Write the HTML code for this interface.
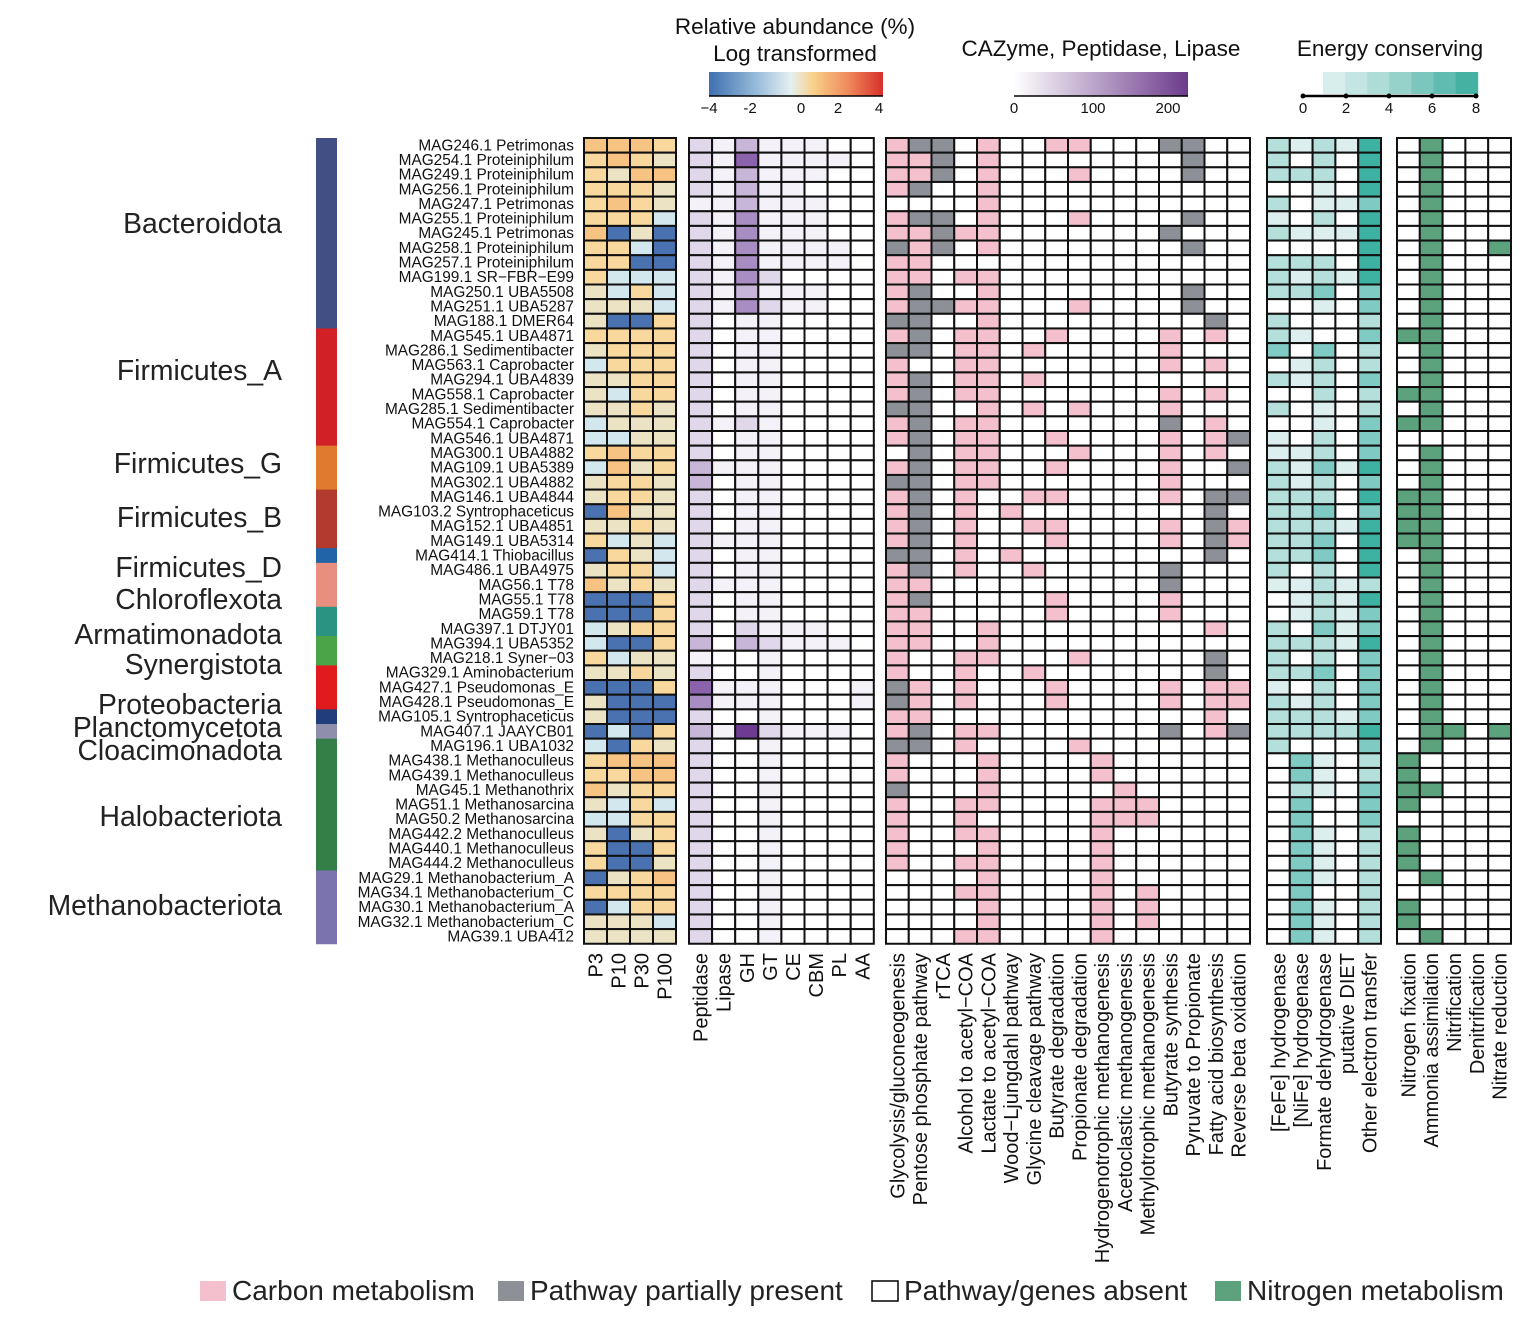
<!DOCTYPE html>
<html><head><meta charset="utf-8"><style>
body{margin:0;background:#fff;}
svg{display:block;font-family:"Liberation Sans",Arial,sans-serif;}
</style></head><body>
<svg id="s" width="1526" height="1320" viewBox="0 0 1526 1320" xmlns="http://www.w3.org/2000/svg">
<defs>
<linearGradient id="ga" x1="0" x2="1"><stop offset="0" stop-color="#3f6fb0"/><stop offset="0.25" stop-color="#8fb5d6"/><stop offset="0.47" stop-color="#e6f0f2"/><stop offset="0.6" stop-color="#f8d08a"/><stop offset="0.8" stop-color="#ef8a5a"/><stop offset="1" stop-color="#d7302a"/></linearGradient>
<linearGradient id="gc" x1="0" x2="1"><stop offset="0" stop-color="#ffffff"/><stop offset="1" stop-color="#6c3b8c"/></linearGradient>
</defs>
<g id="g"></g>
</svg>
<script>
var NS="http://www.w3.org/2000/svg",G=document.getElementById('g');
function el(t,a,txt){var e=document.createElementNS(NS,t);for(var k in a)e.setAttribute(k,a[k]);if(txt!=null)e.textContent=txt;G.appendChild(e);return e;}
var T=138,H=14.65,N=55;
var names=["MAG246.1 Petrimonas","MAG254.1 Proteiniphilum","MAG249.1 Proteiniphilum","MAG256.1 Proteiniphilum","MAG247.1 Petrimonas","MAG255.1 Proteiniphilum","MAG245.1 Petrimonas","MAG258.1 Proteiniphilum","MAG257.1 Proteiniphilum","MAG199.1 SR\u2212FBR\u2212E99","MAG250.1 UBA5508","MAG251.1 UBA5287","MAG188.1 DMER64","MAG545.1 UBA4871","MAG286.1 Sedimentibacter","MAG563.1 Caprobacter","MAG294.1 UBA4839","MAG558.1 Caprobacter","MAG285.1 Sedimentibacter","MAG554.1 Caprobacter","MAG546.1 UBA4871","MAG300.1 UBA4882","MAG109.1 UBA5389","MAG302.1 UBA4882","MAG146.1 UBA4844","MAG103.2 Syntrophaceticus","MAG152.1 UBA4851","MAG149.1 UBA5314","MAG414.1 Thiobacillus","MAG486.1 UBA4975","MAG56.1 T78","MAG55.1 T78","MAG59.1 T78","MAG397.1 DTJY01","MAG394.1 UBA5352","MAG218.1 Syner\u221203","MAG329.1 Aminobacterium","MAG427.1 Pseudomonas_E","MAG428.1 Pseudomonas_E","MAG105.1 Syntrophaceticus","MAG407.1 JAAYCB01","MAG196.1 UBA1032","MAG438.1 Methanoculleus","MAG439.1 Methanoculleus","MAG45.1 Methanothrix","MAG51.1 Methanosarcina","MAG50.2 Methanosarcina","MAG442.2 Methanoculleus","MAG440.1 Methanoculleus","MAG444.2 Methanoculleus","MAG29.1 Methanobacterium_A","MAG34.1 Methanobacterium_C","MAG30.1 Methanobacterium_A","MAG32.1 Methanobacterium_C","MAG39.1 UBA412"];
var ab="OOOy yOye yeOO yyye yOye yyyl Obeb yylb yybb ylll elyl eeel ebby yyyy eyyy lyyy eeyy elyy eeye leee llee yOyy lOey eyye eyye bOee eeye ylel byel eyyl Oeye bbby bbby leyy lbby ylee eeye bbby ebbb ebbb blby lbye yOOO yyOO Oeyy elyl llyy ebey ybby ybbe beyO yyyy blyy eeel eeee".split(" ");
var abc={O:"#f6c383",y:"#f8d89c",e:"#ece3c5",l:"#d3e7ef",b:"#4b72b0"};
var cz="21311100 21511110 21311100 21311000 11311100 21411100 21411100 21411110 21411110 21420000 21311100 21421100 20110000 20110000 20110000 20110000 20110000 20110000 20110000 21210000 20110000 20110000 31110000 30110000 20110000 20110000 20110000 21110000 20110000 20110000 21110000 20110000 20110000 20211100 30321110 10010000 20010000 51110001 41110001 20010000 31621110 20010000 20010000 20010000 20010000 20010000 20010000 20010000 20010000 20010000 20010000 20010000 20010000 20010000 20010000".split(" ");
var czc=["#ffffff","#f4f1f8","#e0d7ea","#c7b6d8","#a88dc3","#8b63ad","#6d3c92"];
var pw=["pgg0p00pp000gg00","ppg0p00000000g00","ppg0p000p0000g00","pg00p00000000000","0000p00000000000","pgg0p000p0000g00","ppgpp0000000g000","gpg0p00000000g00","pp00000000000000","pp0pp00000000000","pg00p00000000g00","pggpp000p0000g00","gg00p000000000g0","pg0pp00p0000p0p0","gg0pp0p00000p000","p00pp0000000p0p0","pg0pp0p000000000","pg0pp0000000p0p0","gg00p0p0p000p000","pg0pp0000000g0p0","pg0pp00p0000p0pg","0g0pp000p000p0p0","pg0pp00p0000p00g","gg0pp0000000p000","pg0p00pp0000p0gg","pg0p0p00000000g0","pg0p00pp0000p0gp","pg0p000p0000p0gp","gg0p0p00000000g0","pg0p00p00000g000","pp0000000000g000","pg00000p0000p000","pp00000p0000p000","pp00p000000000p0","pp00p00000000000","p00pp000p00000g0","p00p00p0000000g0","gp0p000p0000p0pp","gp0p000p0000p0pp","pp000000000000p0","pg0pp0000000g0pg","gg0p0000p0000000","p000p0000p000000","p000p0000p000000","g000p00000p00000","p00pp0000ppp0000","p00p00000ppp0000","p00pp0000p000000","p000p0000p000000","p00pp0000p000000","0000p0000p000000","000pp0000p0p0000","0000p0000p0p0000","0000p0000p0p0000","000pp0000p000000"];
var en="21214 20204 22204 00104 20113 10204 21114 00004 22204 21214 22303 00103 20002 21003 30302 01202 21203 00202 20102 00103 10203 11203 21314 21203 22204 22303 22214 22304 22304 20204 11212 01214 01213 20313 22214 20203 22303 10203 21203 22213 22224 20003 03102 03102 02103 03003 03003 03102 03102 03102 03102 03002 03102 03102 03102".split(" ");
var enc=["#ffffff","#dcefee","#b5dfdb","#7fcbc3","#3db1a2"];
var ni="01000 01000 01000 01000 01000 01000 01000 01001 01000 01000 01000 01000 01000 11000 01000 01000 01000 11000 01000 11000 00000 01000 01000 01000 11000 11000 11000 11000 01000 01000 01000 01000 01000 01000 01000 01000 01000 01000 01000 01000 01101 01000 10000 10000 11000 10000 00000 10000 10000 10000 01000 00000 10000 10000 01000".split(" ");
function panel(x0,w,nc,colfn){
  for(var r=0;r<N;r++)for(var c=0;c<nc;c++){
    el('rect',{x:x0+c*w,y:T+r*H,width:w,height:H,fill:colfn(r,c),stroke:'#111','stroke-width':2});
  }
}
panel(584,23,4,function(r,c){return abc[ab[r][c]];});
panel(689,23.1,8,function(r,c){return czc[+cz[r][c]];});
panel(886,22.75,16,function(r,c){var v=pw[r][c];return v=='p'?'#f4c0cd':v=='g'?'#8d9197':'#fff';});
panel(1267,22.8,5,function(r,c){return enc[+en[r][c]];});
panel(1397,22.8,5,function(r,c){return ni[r][c]=='1'?'#5ba27d':'#fff';});
for(var r=0;r<N;r++)el('text',{x:574,y:T+r*H+H/2+5,'text-anchor':'end','font-size':15.4,fill:'#111'},names[r]);
var tx=[["Bacteroidota",0,13,"#414f85",224],["Firmicutes_A",13,8,"#d12026",371],["Firmicutes_G",21,3,"#df7a2e",464],["Firmicutes_B",24,4,"#b23a2e",518],["Firmicutes_D",28,1,"#2264a8",568],["Chloroflexota",29,3,"#e98f7f",600],["Armatimonadota",32,2,"#2a9381",635],["Synergistota",34,2,"#4ba447",665],["Proteobacteria",36,3,"#e11b1d",705],["Planctomycetota",39,1,"#213d7b",728],["Cloacimonadota",40,1,"#8f8fac",751],["Halobacteriota",41,9,"#347f48",817],["Methanobacteriota",50,5,"#7b73ad",906]];
tx.forEach(function(t){el('rect',{x:316,y:T+t[1]*H,width:21,height:t[2]*H+0.5,fill:t[3]});el('text',{x:282,y:t[4]+9,'text-anchor':'end','font-size':28.3,fill:'#222'},t[0]);});
function cl(x0,w,arr){arr.forEach(function(s,i){var x=x0+i*w+w/2+7;el('text',{x:x,y:953,'text-anchor':'end','font-size':20,fill:'#111',transform:'rotate(-90 '+x+' 953)'},s);});}
cl(584,23,["P3","P10","P30","P100"]);
cl(689,23.1,["Peptidase","Lipase","GH","GT","CE","CBM","PL","AA"]);
cl(886,22.75,["Glycolysis/gluconeogenesis","Pentose phosphate pathway","rTCA","Alcohol to acetyl\u2212COA","Lactate to acetyl\u2212COA","Wood\u2212Ljungdahl pathway","Glycine cleavage pathway","Butyrate degradation","Propionate degradation","Hydrogenotrophic methanogenesis","Acetoclastic methanogenesis","Methylotrophic methanogenesis","Butyrate synthesis","Pyruvate to Propionate","Fatty acid biosynthesis","Reverse beta oxidation"]);
cl(1267,22.8,["[FeFe] hydrogenase","[NiFe] hydrogenase","Formate dehydrogenase","putative DIET","Other electron transfer"]);
cl(1397,22.8,["Nitrogen fixation","Ammonia assimilation","Nitrification","Denitrification","Nitrate reduction"]);
el('text',{x:795,y:34,'text-anchor':'middle','font-size':22.5,fill:'#111'},"Relative abundance (%)");
el('text',{x:795,y:61,'text-anchor':'middle','font-size':22.5,fill:'#111'},"Log transformed");
el('rect',{x:709,y:72,width:174,height:24,fill:'url(#ga)'});
el('line',{x1:709,y1:96,x2:883,y2:96,stroke:'#000','stroke-width':1.5});
[["\u22124",709],["-2",750],["0",801],["2",838],["4",879]].forEach(function(t){el('text',{x:t[1],y:113,'text-anchor':'middle','font-size':15,fill:'#111'},t[0]);});
el('text',{x:1101,y:56,'text-anchor':'middle','font-size':22.5,fill:'#111'},"CAZyme, Peptidase, Lipase");
el('rect',{x:1014,y:72,width:174,height:24,fill:'url(#gc)'});
el('line',{x1:1014,y1:96,x2:1188,y2:96,stroke:'#000','stroke-width':1.5});
[["0",1014],["100",1093],["200",1168]].forEach(function(t){el('text',{x:t[1],y:113,'text-anchor':'middle','font-size':15,fill:'#111'},t[0]);});
el('text',{x:1390,y:56,'text-anchor':'middle','font-size':22.5,fill:'#111'},"Energy conserving");
var ec=["#d8eeec","#c4e6e2","#aedcd7","#96d2ca","#7bc7bd","#60bcb0","#45b1a3","#2da697"];
for(var i=0;i<7;i++)el('rect',{x:1323+i*22.1,y:72,width:22.6,height:22,fill:ec[i]});
el('line',{x1:1303,y1:96,x2:1477,y2:96,stroke:'#000','stroke-width':2.5});
[["0",1303],["2",1346],["4",1389],["6",1432],["8",1476]].forEach(function(t){el('circle',{cx:t[1],cy:96,r:2.5,fill:'#000'});el('text',{x:t[1],y:113,'text-anchor':'middle','font-size':15,fill:'#111'},t[0]);});
[["#f4c0cd","Carbon metabolism",200],["#8d9197","Pathway partially present",498],["#fff","Pathway/genes absent",872],["#5ba27d","Nitrogen metabolism",1215]].forEach(function(t){
  el('rect',{x:t[2],y:1281,width:26,height:20,fill:t[0],stroke:t[0]=="#fff"?'#000':'none','stroke-width':1.5});
  el('text',{x:t[2]+32,y:1300,'font-size':28,fill:'#222'},t[1]);
});
</script>
</body></html>
